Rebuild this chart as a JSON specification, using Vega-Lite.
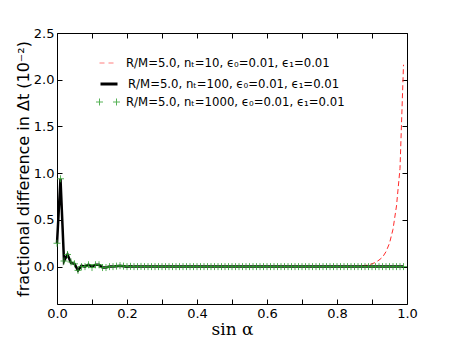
{
  "$schema": "https://vega.github.io/schema/vega-lite/v6.json",
  "width": 350,
  "height": 271,
  "autosize": {"type": "none"},
  "padding": {"left": 57, "top": 33, "right": 45, "bottom": 35},
  "background": "white",
  "config": {
    "view": {"stroke": "black", "strokeWidth": 1},
    "axis": {
      "grid": false,
      "domain": false,
      "tickColor": "black",
      "tickSize": -5,
      "labelPadding": 8,
      "labelFont": "DejaVu Sans",
      "labelFontSize": 13,
      "labelColor": "black",
      "titleFontWeight": "normal",
      "titleColor": "black"
    },
    "legend": {
      "labelFont": "DejaVu Sans",
      "labelFontSize": 11.7,
      "labelColor": "black",
      "labelLimit": 0,
      "padding": 0,
      "orient": "none"
    }
  },
  "data": {
    "values": [
      {"x": 0.00, "n10": 0.25, "n100": 0.25, "n1000": 0.25},
      {"x": 0.01, "n10": 0.94, "n100": 0.94, "n1000": 0.94},
      {"x": 0.02, "n10": 0.06, "n100": 0.06, "n1000": 0.06},
      {"x": 0.03, "n10": 0.13, "n100": 0.13, "n1000": 0.13},
      {"x": 0.04, "n10": 0.04, "n100": 0.04, "n1000": 0.05},
      {"x": 0.05, "n10": 0.03, "n100": 0.03, "n1000": 0.03},
      {"x": 0.06, "n10": -0.04, "n100": -0.04, "n1000": -0.04},
      {"x": 0.07, "n10": 0.01, "n100": 0.01, "n1000": 0.0},
      {"x": 0.08, "n10": 0.0, "n100": 0.0, "n1000": 0.0},
      {"x": 0.09, "n10": 0.02, "n100": 0.02, "n1000": 0.02},
      {"x": 0.10, "n10": 0.0, "n100": 0.0, "n1000": -0.01},
      {"x": 0.11, "n10": 0.02, "n100": 0.02, "n1000": 0.02},
      {"x": 0.12, "n10": 0.02, "n100": 0.02, "n1000": 0.02},
      {"x": 0.13, "n10": -0.01, "n100": -0.01, "n1000": -0.01},
      {"x": 0.14, "n10": -0.01, "n100": -0.01, "n1000": -0.01},
      {"x": 0.15, "n10": 0.0, "n100": 0.0, "n1000": 0.0},
      {"x": 0.16, "n10": 0.0, "n100": 0.0, "n1000": 0.0},
      {"x": 0.17, "n10": 0.005, "n100": 0.005, "n1000": 0.005},
      {"x": 0.18, "n10": 0.01, "n100": 0.01, "n1000": 0.01},
      {"x": 0.19, "n10": 0.005, "n100": 0.005, "n1000": 0.005},
      {"x": 0.20, "n10": 0.0, "n100": 0.0, "n1000": 0.0},
      {"x": 0.21, "n10": 0.003, "n100": 0.003, "n1000": 0.003},
      {"x": 0.22, "n10": 0.0, "n100": 0.0, "n1000": 0.0},
      {"x": 0.23, "n10": 0.0, "n100": 0.0, "n1000": 0.0},
      {"x": 0.24, "n10": 0.002, "n100": 0.002, "n1000": 0.002},
      {"x": 0.25, "n10": 0.0, "n100": 0.0, "n1000": 0.0},
      {"x": 0.26, "n10": 0.0, "n100": 0.0, "n1000": 0.0},
      {"x": 0.27, "n10": 0.0, "n100": 0.0, "n1000": 0.0},
      {"x": 0.28, "n10": 0.0, "n100": 0.0, "n1000": 0.0},
      {"x": 0.29, "n10": 0.0, "n100": 0.0, "n1000": 0.0},
      {"x": 0.30, "n10": 0.0, "n100": 0.0, "n1000": 0.0},
      {"x": 0.31, "n10": 0.0, "n100": 0.0, "n1000": 0.0},
      {"x": 0.32, "n10": 0.0, "n100": 0.0, "n1000": 0.0},
      {"x": 0.33, "n10": 0.0, "n100": 0.0, "n1000": 0.0},
      {"x": 0.34, "n10": 0.0, "n100": 0.0, "n1000": 0.0},
      {"x": 0.35, "n10": 0.0, "n100": 0.0, "n1000": 0.0},
      {"x": 0.36, "n10": 0.0, "n100": 0.0, "n1000": 0.0},
      {"x": 0.37, "n10": 0.0, "n100": 0.0, "n1000": 0.0},
      {"x": 0.38, "n10": 0.0, "n100": 0.0, "n1000": 0.0},
      {"x": 0.39, "n10": 0.0, "n100": 0.0, "n1000": 0.0},
      {"x": 0.40, "n10": 0.0, "n100": 0.0, "n1000": 0.0},
      {"x": 0.41, "n10": 0.0, "n100": 0.0, "n1000": 0.0},
      {"x": 0.42, "n10": 0.0, "n100": 0.0, "n1000": 0.0},
      {"x": 0.43, "n10": 0.0, "n100": 0.0, "n1000": 0.0},
      {"x": 0.44, "n10": 0.0, "n100": 0.0, "n1000": 0.0},
      {"x": 0.45, "n10": 0.0, "n100": 0.0, "n1000": 0.0},
      {"x": 0.46, "n10": 0.0, "n100": 0.0, "n1000": 0.0},
      {"x": 0.47, "n10": 0.0, "n100": 0.0, "n1000": 0.0},
      {"x": 0.48, "n10": 0.0, "n100": 0.0, "n1000": 0.0},
      {"x": 0.49, "n10": 0.0, "n100": 0.0, "n1000": 0.0},
      {"x": 0.50, "n10": 0.0, "n100": 0.0, "n1000": 0.0},
      {"x": 0.51, "n10": 0.0, "n100": 0.0, "n1000": 0.0},
      {"x": 0.52, "n10": 0.0, "n100": 0.0, "n1000": 0.0},
      {"x": 0.53, "n10": 0.0, "n100": 0.0, "n1000": 0.0},
      {"x": 0.54, "n10": 0.0, "n100": 0.0, "n1000": 0.0},
      {"x": 0.55, "n10": 0.0, "n100": 0.0, "n1000": 0.0},
      {"x": 0.56, "n10": 0.0, "n100": 0.0, "n1000": 0.0},
      {"x": 0.57, "n10": 0.0, "n100": 0.0, "n1000": 0.0},
      {"x": 0.58, "n10": 0.0, "n100": 0.0, "n1000": 0.0},
      {"x": 0.59, "n10": 0.0, "n100": 0.0, "n1000": 0.0},
      {"x": 0.60, "n10": 0.0, "n100": 0.0, "n1000": 0.0},
      {"x": 0.61, "n10": 0.0, "n100": 0.0, "n1000": 0.0},
      {"x": 0.62, "n10": 0.0, "n100": 0.0, "n1000": 0.0},
      {"x": 0.63, "n10": 0.0, "n100": 0.0, "n1000": 0.0},
      {"x": 0.64, "n10": 0.0, "n100": 0.0, "n1000": 0.0},
      {"x": 0.65, "n10": 0.0, "n100": 0.0, "n1000": 0.0},
      {"x": 0.66, "n10": 0.0, "n100": 0.0, "n1000": 0.0},
      {"x": 0.67, "n10": 0.0, "n100": 0.0, "n1000": 0.0},
      {"x": 0.68, "n10": 0.0, "n100": 0.0, "n1000": 0.0},
      {"x": 0.69, "n10": 0.0, "n100": 0.0, "n1000": 0.0},
      {"x": 0.70, "n10": 0.0, "n100": 0.0, "n1000": 0.0},
      {"x": 0.71, "n10": 0.0, "n100": 0.0, "n1000": 0.0},
      {"x": 0.72, "n10": 0.0, "n100": 0.0, "n1000": 0.0},
      {"x": 0.73, "n10": 0.0, "n100": 0.0, "n1000": 0.0},
      {"x": 0.74, "n10": 0.0, "n100": 0.0, "n1000": 0.0},
      {"x": 0.75, "n10": 0.0, "n100": 0.0, "n1000": 0.0},
      {"x": 0.76, "n10": 0.0, "n100": 0.0, "n1000": 0.0},
      {"x": 0.77, "n10": 0.0, "n100": 0.0, "n1000": 0.0},
      {"x": 0.78, "n10": 0.0, "n100": 0.0, "n1000": 0.0},
      {"x": 0.79, "n10": 0.0, "n100": 0.0, "n1000": 0.0},
      {"x": 0.80, "n10": 0.0, "n100": 0.0, "n1000": 0.0},
      {"x": 0.81, "n10": 0.0, "n100": 0.0, "n1000": 0.0},
      {"x": 0.82, "n10": 0.0, "n100": 0.0, "n1000": 0.0},
      {"x": 0.83, "n10": 0.0, "n100": 0.0, "n1000": 0.0},
      {"x": 0.84, "n10": 0.0, "n100": 0.0, "n1000": 0.0},
      {"x": 0.85, "n10": 0.0, "n100": 0.0, "n1000": 0.0},
      {"x": 0.86, "n10": 0.002, "n100": 0.0, "n1000": 0.0},
      {"x": 0.87, "n10": 0.005, "n100": 0.0, "n1000": 0.0},
      {"x": 0.88, "n10": 0.01, "n100": 0.0, "n1000": 0.0},
      {"x": 0.89, "n10": 0.02, "n100": 0.0, "n1000": 0.0},
      {"x": 0.90, "n10": 0.03, "n100": 0.0, "n1000": 0.0},
      {"x": 0.91, "n10": 0.045, "n100": 0.0, "n1000": 0.0},
      {"x": 0.92, "n10": 0.07, "n100": 0.0, "n1000": 0.0},
      {"x": 0.93, "n10": 0.1, "n100": 0.0, "n1000": 0.0},
      {"x": 0.94, "n10": 0.16, "n100": 0.0, "n1000": 0.0},
      {"x": 0.95, "n10": 0.25, "n100": 0.0, "n1000": 0.0},
      {"x": 0.96, "n10": 0.4, "n100": 0.0, "n1000": 0.0},
      {"x": 0.97, "n10": 0.65, "n100": 0.0, "n1000": 0.0},
      {"x": 0.98, "n10": 1.05, "n100": 0.0, "n1000": 0.0},
      {"x": 0.99, "n10": 2.16, "n100": 0.0, "n1000": 0.0}
    ]
  },
  "layer": [
    {
      "mark": {"type": "line", "strokeWidth": 1, "strokeDash": [5, 3]},
      "encoding": {
        "x": {
          "field": "x", "type": "quantitative",
          "scale": {"domain": [0, 1], "nice": false},
          "axis": {
            "values": [0, 0.1, 0.2, 0.3, 0.4, 0.5, 0.6, 0.7, 0.8, 0.9, 1.0],
            "labelExpr": "round(datum.value * 10) % 2 === 0 ? format(datum.value, '.1f') : ''",
            "labelFlush": false,
            "title": "sin α",
            "titleFont": "DejaVu Serif",
            "titleFontSize": 17,
            "titlePadding": 1
          }
        },
        "y": {
          "field": "n10", "type": "quantitative",
          "scale": {"domain": [-0.4, 2.5], "nice": false, "zero": false},
          "axis": {
            "values": [0, 0.5, 1.0, 1.5, 2.0, 2.5],
            "format": ".1f",
            "labelFlush": false,
            "title": "fractional difference in Δt (10⁻²)",
            "titleFont": "DejaVu Sans",
            "titleFontSize": 16,
            "titlePadding": 2
          }
        },
        "color": {
          "datum": "R/M=5.0, nₜ=10, ϵ₀=0.01, ϵ₁=0.01",
          "type": "nominal",
          "scale": {"range": ["#ff2a2a"]},
          "legend": {
            "title": null,
            "symbolType": "stroke",
            "symbolSize": 289,
            "symbolStrokeWidth": 1,
            "symbolDash": [5, 4],
            "symbolOpacity": 0.6,
            "labelOffset": 9,
            "legendX": 42,
            "legendY": 21
          }
        }
      }
    },
    {
      "mark": {"type": "line", "strokeWidth": 2.5},
      "encoding": {
        "x": {
          "field": "x", "type": "quantitative",
          "axis": {
            "orient": "top",
            "values": [0, 0.1, 0.2, 0.3, 0.4, 0.5, 0.6, 0.7, 0.8, 0.9, 1.0],
            "labels": false,
            "title": null
          }
        },
        "y": {
          "field": "n100", "type": "quantitative",
          "axis": {
            "orient": "right",
            "values": [0, 0.5, 1.0, 1.5, 2.0, 2.5],
            "labels": false,
            "title": null
          }
        },
        "color": {
          "datum": "R/M=5.0, nₜ=100, ϵ₀=0.01, ϵ₁=0.01",
          "type": "nominal",
          "scale": {"range": ["#000000"]},
          "legend": {
            "title": null,
            "symbolType": "stroke",
            "symbolSize": 289,
            "symbolStrokeWidth": 3,
            "labelOffset": 9,
            "legendX": 42,
            "legendY": 41
          }
        }
      }
    },
    {
      "mark": {
        "type": "point",
        "shape": "M-1,0H1M0,-1V1",
        "filled": false,
        "strokeWidth": 1,
        "size": 49,
        "opacity": 0.8
      },
      "encoding": {
        "x": {"field": "x", "type": "quantitative", "axis": null},
        "y": {"field": "n1000", "type": "quantitative", "axis": null},
        "color": {
          "datum": "R/M=5.0, nₜ=1000, ϵ₀=0.01, ϵ₁=0.01",
          "type": "nominal",
          "scale": {"range": ["#2ea02e"]},
          "legend": {
            "title": null,
            "symbolType": "M-1.41,0H-0.59M-1,-0.41V0.41M0.59,0H1.41M1,-0.41V0.41",
            "symbolSize": 289,
            "symbolStrokeWidth": 1,
            "symbolFillColor": "transparent",
            "labelOffset": 9,
            "legendX": 42,
            "legendY": 60
          }
        }
      }
    }
  ],
  "resolve": {
    "scale": {"color": "independent"},
    "axis": {"x": "independent", "y": "independent"}
  }
}
